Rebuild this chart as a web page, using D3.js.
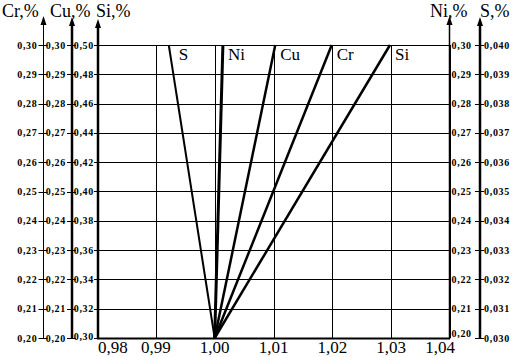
<!DOCTYPE html>
<html>
<head>
<meta charset="utf-8">
<script src="https://cdn.jsdelivr.net/npm/d3@7"></script>
<style>
  body { margin: 0; background: #fff; }
  text { font-family: "Liberation Serif", "Times New Roman", serif; fill: #000; }
  .tick-label { font-size: 10px; font-weight: bold; letter-spacing: 0.7px; }
  .title { font-size: 18px; }
  .xlabel { font-size: 17px; }
  .series { font-size: 17px; }
</style>
</head>
<body>
<div id="chart"></div>
<script>
// data
const xTicks = [0.98, 0.99, 1.00, 1.01, 1.02, 1.03, 1.04];
const crTicks = [0.20, 0.21, 0.22, 0.23, 0.24, 0.25, 0.26, 0.27, 0.28, 0.29, 0.30];
const cuTicks = [0.20, 0.21, 0.22, 0.23, 0.24, 0.25, 0.26, 0.27, 0.28, 0.29, 0.30];
const siTicks = [0.30, 0.32, 0.34, 0.36, 0.38, 0.40, 0.42, 0.44, 0.46, 0.48, 0.50];
const niTicks = [0.20, 0.21, 0.22, 0.23, 0.24, 0.25, 0.26, 0.27, 0.28, 0.29, 0.30];
const sTicks = [0.030, 0.031, 0.032, 0.033, 0.034, 0.035, 0.036, 0.037, 0.038, 0.039, 0.040];

// each element: ratio at lowest content and ratio at highest content
const elements = ["S", "Ni", "Cu", "Cr", "Si"];
const ratioLow = [1.000, 1.000, 1.000, 1.000, 1.000];
const ratioHigh = [0.9922, 1.0014, 1.0103, 1.0199, 1.0298];

const width = 517, height = 357;
const plotTop = 45, plotBottom = 338, plotLeft = 97, plotRight = 450;

const svg = d3.select("#chart").append("svg")
  .attr("width", width)
  .attr("height", height);

const x = d3.scaleLinear().domain([0.98, 1.04]).range([plotLeft, plotRight]);
const yCr = d3.scaleLinear().domain([0.20, 0.30]).range([plotBottom, plotTop]);
const yCu = d3.scaleLinear().domain([0.20, 0.30]).range([plotBottom, plotTop]);
const ySi = d3.scaleLinear().domain([0.30, 0.50]).range([plotBottom, plotTop]);
const yNi = d3.scaleLinear().domain([0.20, 0.30]).range([plotBottom, plotTop]);
const yS = d3.scaleLinear().domain([0.030, 0.040]).range([plotBottom, plotTop]);

const comma = f => v => d3.format(f)(v).replace(".", ",");

// grid
svg.selectAll("line.hgrid")
  .data(siTicks)
  .join("line")
  .attr("class", "hgrid")
  .attr("x1", plotLeft).attr("x2", plotRight - 1)
  .attr("y1", d => Math.round(ySi(d)) + 0.5)
  .attr("y2", d => Math.round(ySi(d)) + 0.5)
  .attr("stroke", "#000").attr("stroke-width", 1);

svg.selectAll("line.vgrid")
  .data(xTicks)
  .join("line")
  .attr("class", "vgrid")
  .attr("x1", d => Math.round(x(d)) + 0.5)
  .attr("x2", d => Math.round(x(d)) + 0.5)
  .attr("y1", plotTop).attr("y2", plotBottom)
  .attr("stroke", "#000").attr("stroke-width", 1);

svg.append("line")
  .attr("x1", plotLeft).attr("x2", plotRight)
  .attr("y1", plotBottom + 0.5).attr("y2", plotBottom + 0.5)
  .attr("stroke", "#000").attr("stroke-width", 2);

// vertical axes with arrow heads
function drawAxis(ax, tip, sw) {
  svg.append("line")
    .attr("x1", ax).attr("x2", ax)
    .attr("y1", plotBottom + 1).attr("y2", tip + 6)
    .attr("stroke", "#000").attr("stroke-width", sw);
  svg.append("path")
    .attr("d", `M${ax},${tip} L${ax - 3},${tip + 9} L${ax + 3},${tip + 9} Z`)
    .attr("fill", "#000");
}

function drawTicks(scale, ticks, ax, fmt, tx1, tx2, lx, anchor, lastLift) {
  const g = svg.append("g");
  g.selectAll("line")
    .data(ticks)
    .join("line")
    .attr("x1", ax + tx1).attr("x2", ax + tx2)
    .attr("y1", d => Math.round(scale(d)) + 0.5)
    .attr("y2", d => Math.round(scale(d)) + 0.5)
    .attr("stroke", "#000");
  g.selectAll("text")
    .data(ticks)
    .join("text")
    .attr("class", "tick-label")
    .attr("x", ax + lx)
    .attr("y", (d, i) => scale(d) - (i === 0 ? (lastLift || 0) : 0))
    .attr("dy", "0.35em")
    .attr("text-anchor", anchor)
    .text(fmt);
}

// Cr axis
drawAxis(43.5, 16, 1);
drawTicks(yCr, crTicks, 43.5, comma(".2f"), -5, 4, -6, "end");
// Cu axis
drawAxis(72, 17, 2.5);
drawTicks(yCu, cuTicks, 72, comma(".2f"), -5, 4, -6, "end");
// Si axis
drawAxis(98, 19, 2.5);
drawTicks(ySi, siTicks, 98, comma(".2f"), -4, 0, -4, "end", 2);
// Ni axis (right)
drawAxis(449.5, 16, 1.5);
drawTicks(yNi, niTicks, 449.5, comma(".2f"), 0, 0, 2, "start", 5);
// S axis (right)
drawAxis(480, 17, 2.5);
drawTicks(yS, sTicks, 480, comma(".3f"), -5, 4, 4, "start");

// axis titles
const titles = [
  { t: "Cr,%", x: 2 }, { t: "Cu,%", x: 50 }, { t: "Si,%", x: 96 },
  { t: "Ni,%", x: 430 }, { t: "S,%", x: 480 }
];
svg.selectAll("text.title")
  .data(titles)
  .join("text")
  .attr("class", "title")
  .attr("x", d => d.x)
  .attr("y", 17)
  .text(d => d.t);

// x labels
svg.selectAll("text.xlabel")
  .data(xTicks)
  .join("text")
  .attr("class", "xlabel")
  .attr("x", (d, i) => i === 0 ? x(d) + 1 : i === xTicks.length - 1 ? x(d) + 5 : x(d))
  .attr("y", 353)
  .attr("text-anchor", (d, i) => i === 0 ? "start" : i === xTicks.length - 1 ? "end" : "middle")
  .text(comma(".2f"));

// element lines
const yFor = { S: yS, Ni: yNi, Cu: yCu, Cr: yCr, Si: ySi };
const widths = { S: 2, Ni: 3, Cu: 2.5, Cr: 2.5, Si: 2.5 };
const series = elements.map((e, i) => {
  const dom = yFor[e].domain();
  return { name: e, pts: [[ratioLow[i], dom[0]], [ratioHigh[i], dom[1]]] };
});

svg.selectAll("path.series")
  .data(series)
  .join("path")
  .attr("class", "series")
  .attr("fill", "none")
  .attr("stroke", "#000")
  .attr("stroke-width", d => widths[d.name])
  .attr("d", d => d3.line().x(p => x(p[0])).y(p => yFor[d.name](p[1]))(d.pts));

svg.selectAll("text.series")
  .data(series)
  .join("text")
  .attr("class", "series")
  .attr("x", d => x(d.pts[1][0]) + (d.name === "S" ? 10 : 5))
  .attr("y", 60)
  .text(d => d.name);
</script>
</body>
</html>
